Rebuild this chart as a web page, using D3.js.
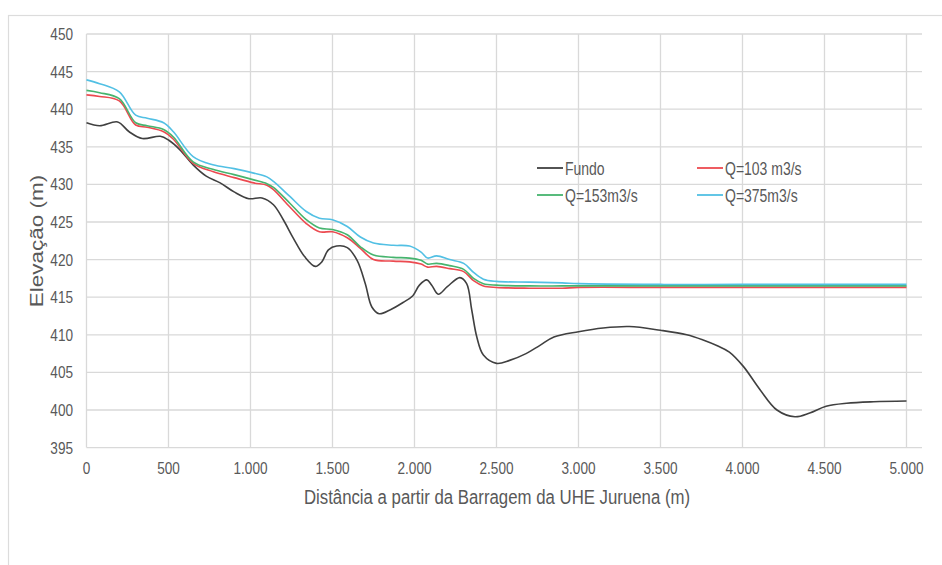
<!DOCTYPE html>
<html><head><meta charset="utf-8">
<script src="https://cdn.jsdelivr.net/npm/d3@7"></script>
<style>html,body{margin:0;padding:0;background:#fff;}svg{display:block;}</style>
</head><body>
<svg id="c" width="942" height="565"></svg>
<script>
// ---- data ----
const fundoDist = [0,80,190,260,340,450,500,570,650,730,815,900,990,1070,1140,1200,1260,1330,1395,1435,1475,1525,1590,1650,1700,1740,1785,1850,1930,1990,2030,2075,2105,2145,2200,2277,2318,2349,2380,2420,2500,2580,2680,2765,2850,3000,3150,3310,3500,3660,3760,3850,3920,4005,4107,4210,4320,4410,4510,4635,4800,5000];
const fundo = [438.2,437.8,438.3,437.0,436.1,436.4,435.9,434.6,432.6,431.1,430.2,429.0,428.1,428.2,427.3,425.3,422.9,420.4,419.1,419.7,421.3,421.8,421.6,419.9,416.8,413.7,412.8,413.3,414.3,415.2,416.6,417.3,416.6,415.4,416.4,417.6,416.8,413.3,409.7,407.3,406.2,406.6,407.5,408.6,409.7,410.4,410.9,411.1,410.6,410.0,409.3,408.5,407.7,405.8,402.7,400.0,399.1,399.6,400.5,400.9,401.1,401.2];
const waterDist = [0,80,200,300,370,470,530,650,770,900,1020,1100,1140,1240,1340,1420,1500,1590,1670,1750,1870,1970,2040,2080,2135,2215,2300,2360,2420,2500,2700,2900,3000,3500,4000,4500,5000];
const q103 = [441.9,441.7,441.1,437.9,437.6,437.0,436.0,432.8,431.7,430.9,430.2,429.9,429.3,427.0,424.8,423.7,423.7,422.9,421.5,420.0,419.8,419.7,419.4,419.0,419.1,418.8,418.4,417.2,416.5,416.3,416.2,416.2,416.3,416.3,416.3,416.3,416.3];
const q153 = [442.5,442.2,441.4,438.2,437.8,437.3,436.3,433.0,432.0,431.3,430.6,430.1,429.6,427.5,425.3,424.2,424.0,423.3,421.7,420.6,420.3,420.2,419.9,419.4,419.5,419.2,418.7,417.5,416.8,416.6,416.5,416.5,416.5,416.5,416.5,416.5,416.5];
const q375 = [443.9,443.4,442.3,439.2,438.8,438.2,437.0,433.7,432.6,432.1,431.5,431.0,430.4,428.4,426.4,425.5,425.3,424.4,423.0,422.2,421.9,421.8,421.0,420.2,420.5,420.0,419.5,418.3,417.4,417.1,417.0,416.9,416.8,416.7,416.7,416.7,416.7];
const seriesNames = ["Fundo","Q=103 m3/s","Q=153m3/s","Q=375m3/s"];
const seriesColors = ["#404040","#ec4a50","#46b46e","#52c0e4"];
const xTicks = [0,500,1000,1500,2000,2500,3000,3500,4000,4500,5000];
const xTickLabels = ["0","500","1.000","1.500","2.000","2.500","3.000","3.500","4.000","4.500","5.000"];
const yTicks = [395,400,405,410,415,420,425,430,435,440,445,450];
const xTitle = "Distância a partir da Barragem da UHE Juruena (m)";
const yTitle = "Elevação (m)";

// ---- layout ----
const svg = d3.select("#c");
const SX = 0.8; // horizontal text compression seen in the reference
const FONT = "'Liberation Sans', Arial, sans-serif";
const x = d3.scaleLinear().domain([0,5000]).range([86.5,906.5]);
const y = d3.scaleLinear().domain([395,450]).range([447.6,34]);
const gridRight = 922;

// chart frame
svg.append("rect").attr("x",8.5).attr("y",15.5).attr("width",960).attr("height",600)
  .attr("fill","none").attr("stroke","#dcdcdc").attr("stroke-width",1.2);

// gridlines
const g = svg.append("g");
g.selectAll("line.h").data(yTicks).join("line")
  .attr("x1",x(0)).attr("x2",gridRight).attr("y1",d=>y(d)).attr("y2",d=>y(d))
  .attr("stroke","#d9d9d9").attr("stroke-width",1.3);
g.selectAll("line.v").data(xTicks).join("line")
  .attr("y1",y(450)).attr("y2",y(395)).attr("x1",d=>x(d)).attr("x2",d=>x(d))
  .attr("stroke","#d9d9d9").attr("stroke-width",1.3);

// axes labels via d3 axes (no domain/tick lines)
const yAxis = svg.append("g")
  .call(d3.axisLeft(y).tickValues(yTicks).tickSize(0).tickPadding(0));
yAxis.select(".domain").remove();
yAxis.selectAll(".tick").attr("transform",null);
yAxis.selectAll("text").attr("font-family",FONT).attr("font-size",17).attr("fill","#595959")
  .attr("text-anchor","end").attr("dy",null).attr("x",0).attr("y",0)
  .attr("transform",d=>`translate(73,${y(d)+6}) scale(${SX},1)`);

const xAxis = svg.append("g")
  .call(d3.axisBottom(x).tickValues(xTicks).tickSize(0).tickPadding(0).tickFormat((d,i)=>xTickLabels[i]));
xAxis.select(".domain").remove();
xAxis.selectAll(".tick").attr("transform",null);
xAxis.selectAll("text").attr("font-family",FONT).attr("font-size",17).attr("fill","#595959")
  .attr("text-anchor","middle").attr("dy",null).attr("y",0)
  .attr("transform",d=>`translate(${x(d)},473.5) scale(${SX},1)`);

// axis titles
svg.append("text").text(xTitle).attr("font-family",FONT).attr("font-size",21).attr("fill","#595959")
  .attr("text-anchor","middle").attr("transform",`translate(497,504) scale(${SX},1)`);
svg.append("text").text(yTitle).attr("font-family",FONT).attr("font-size",22.5).attr("fill","#595959")
  .attr("text-anchor","middle").attr("transform",`translate(43,241) scale(${SX},1) rotate(-90)`);

// lines
const line = d3.line().x(d=>x(d[0])).y(d=>y(d[1])).curve(d3.curveCatmullRom.alpha(0.5));
const data = [
  d3.zip(fundoDist,fundo),
  d3.zip(waterDist,q103),
  d3.zip(waterDist,q153),
  d3.zip(waterDist,q375)
];
svg.append("g").selectAll("path").data(data).join("path")
  .attr("d",line).attr("fill","none")
  .attr("stroke",(d,i)=>seriesColors[i]).attr("stroke-width",1.6)
  .attr("stroke-linejoin","round");

// legend
const legPos = [[537,168],[697,168],[537,195],[697,195]];
const leg = svg.append("g").selectAll("g").data(seriesNames).join("g")
  .attr("transform",(d,i)=>`translate(${legPos[i][0]},${legPos[i][1]})`);
leg.append("line").attr("x1",0).attr("x2",26).attr("y1",0).attr("y2",0)
  .attr("stroke",(d,i)=>seriesColors[i]).attr("stroke-width",1.8);
leg.append("text").text(d=>d).attr("font-family",FONT).attr("font-size",17.5).attr("fill","#595959")
  .attr("transform",`translate(28,6.5) scale(${SX},1)`);
</script>
</body></html>
